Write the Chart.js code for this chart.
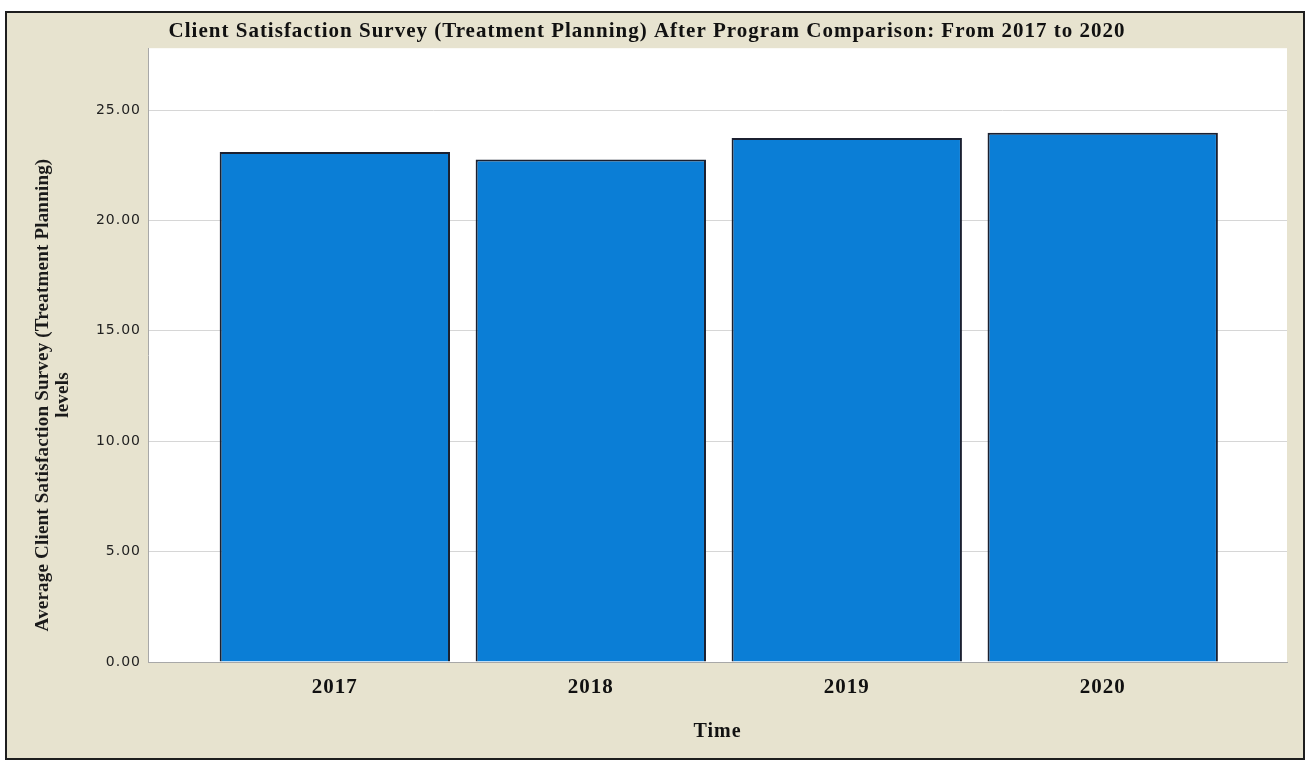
<!DOCTYPE html>
<html lang="en">
<head>
  <meta charset="UTF-8">
  <title>Client Satisfaction Survey</title>
  <script src="https://cdn.jsdelivr.net/npm/chart.js"></script>
  <style>
    html, body { margin: 0; padding: 0; background: #fff; }
    #wrap {
      position: absolute; left: 5px; top: 11px;
      width: 1296px; height: 745px;
      border: 2px solid #1e1e1e;
      background: #e7e3cf;
    }
  </style>
</head>
<body>
  <div id="wrap"><canvas id="grafico"></canvas></div>

  <script>
    // data
    const years = ['2017', '2018', '2019', '2020'];
    const avgScores = [23.10, 22.76, 23.73, 23.97];
    const yTicks = [0, 5, 10, 15, 20, 25];

    const serif = '"Liberation Serif", "Times New Roman", serif';

    // white plot background + a bit of letter spacing like the SPSS output
    const plotBg = {
      id: 'plotBg',
      beforeDraw(chart) {
        const { ctx, chartArea: a } = chart;
        ctx.save();
        ctx.fillStyle = '#ffffff';
        ctx.fillRect(a.left, a.top, a.right - a.left, a.bottom - a.top);
        ctx.restore();
        ctx.letterSpacing = '1px';
      }
    };

    // y axis title, placed a bit lower than the chart area centre like the original
    const yTitle = {
      id: 'yTitle',
      afterDraw(chart) {
        const ctx = chart.ctx;
        ctx.save();
        ctx.letterSpacing = '0.2px';
        ctx.translate(46, 382);
        ctx.rotate(-Math.PI / 2);
        ctx.fillStyle = '#1a1a1a';
        ctx.font = 'bold 19px ' + serif;
        ctx.textAlign = 'center';
        ctx.textBaseline = 'middle';
        ctx.fillText('Average Client Satisfaction Survey (Treatment Planning)', 0, -10);
        ctx.fillText('levels', 0, 10);
        ctx.restore();
      }
    };

    new Chart(document.getElementById('grafico'), {
      type: 'bar',
      data: {
        datasets: [{
          data: avgScores.map((v, i) => ({ x: i, y: v })),
          backgroundColor: '#0b7ed6',
          borderColor: '#1b2030',
          borderWidth: 2,
          categoryPercentage: 1,
          barPercentage: 0.9
        }]
      },
      options: {
        responsive: true,
        maintainAspectRatio: false,
        animation: false,
        layout: { padding: { left: 0, right: 16, top: 0, bottom: 0 } },
        plugins: {
          legend: { display: false },
          tooltip: { enabled: false },
          title: {
            display: true,
            text: 'Client Satisfaction Survey (Treatment Planning) After Program Comparison: From 2017 to 2020',
            color: '#111',
            font: { family: serif, size: 21, weight: 'bold' },
            padding: { top: 6, bottom: 4 }
          }
        },
        scales: {
          x: {
            type: 'linear',
            offset: false,
            min: -0.73,
            max: 3.72,
            grid: { display: false, drawTicks: false },
            border: { display: true, color: '#a8a8a8' },
            afterBuildTicks(scale) {
              scale.ticks = years.map((y, i) => ({ value: i }));
            },
            afterFit(scale) { scale.height = 96; },
            ticks: {
              autoSkip: false,
              maxRotation: 0,
              padding: 13,
              color: '#111',
              font: { family: serif, size: 21, weight: 'bold' },
              callback: (v) => years[v]
            },
            title: {
              display: true,
              text: 'Time',
              color: '#111',
              font: { family: serif, size: 20, weight: 'bold' },
              padding: { top: 0, bottom: 14 }
            }
          },
          y: {
            min: 0,
            max: 27.8,
            grid: { color: '#d6d6d6', drawTicks: false },
            border: { display: true, color: '#a8a8a8' },
            afterBuildTicks(scale) {
              scale.ticks = yTicks.map(v => ({ value: v }));
            },
            afterFit(scale) { scale.width = 141; },
            ticks: {
              padding: 7,
              color: '#222',
              font: { family: '"DejaVu Sans", sans-serif', size: 14 },
              callback: (v) => v.toFixed(2)
            }
          }
        }
      },
      plugins: [plotBg, yTitle]
    });
  </script>
</body>
</html>
